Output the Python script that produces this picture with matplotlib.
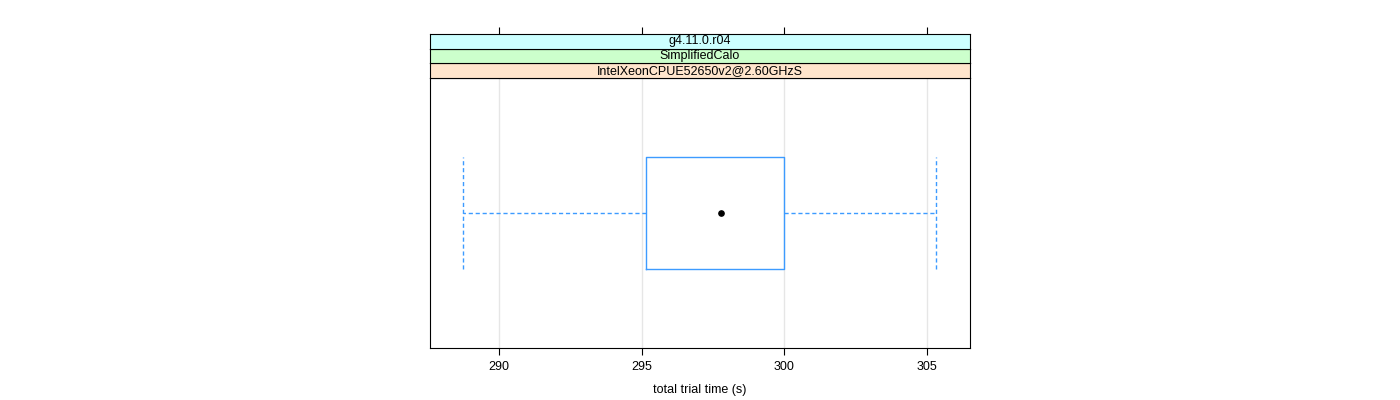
import matplotlib
matplotlib.use("Agg")
import matplotlib.pyplot as plt

plt.rcParams["font.family"] = ["Liberation Sans", "DejaVu Sans"]

# box stats (seconds)
whisker_lo = 288.74
q1 = 295.14
median = 297.77
q3 = 300.0
whisker_hi = 305.33
xlim = (287.58, 306.51)
xticks = [290, 295, 300, 305]
strips = ["IntelXeonCPUE52650v2@2.60GHzS", "SimplifiedCalo", "g4.11.0.r04"]
strip_colors = ["#ffe5cc", "#ccffcc", "#ccffff"]
box_col = "#3d9bff"

W, H = 1400, 400
fig = plt.figure(figsize=(W / 100, H / 100), dpi=100)

left, right = 430 / W, 970 / W
ax = fig.add_axes([left, (H - 348) / H, right - left, 270 / H])

stats = [{"whislo": whisker_lo, "q1": q1, "med": median, "q3": q3,
          "whishi": whisker_hi, "fliers": []}]
ax.bxp(stats, positions=[1], widths=0.5, vert=False, capwidths=0.5,
       showfliers=False,
       boxprops=dict(color=box_col, lw=1),
       whiskerprops=dict(color=box_col, lw=1, ls=(0, (3, 2))),
       capprops=dict(color=box_col, lw=1, ls=(0, (3, 2))),
       medianprops=dict(ls="none"))
ax.plot([median], [1], "o", color="black", ms=3.8, zorder=5)

ax.set_xlim(*xlim)
ax.set_ylim(0.4, 1.6)
ax.set_xticks(xticks)
ax.set_xticklabels([str(t) for t in xticks], fontsize=9)
ax.set_yticks([])
ax.tick_params(axis="x", direction="out", length=5, width=0.8, pad=4)
for t in xticks:
    ax.axvline(t, color="#e6e6e6", lw=1, zorder=0)
for s in ax.spines.values():
    s.set_linewidth(0.8)
ax.set_xlabel("total trial time (s)", fontsize=9, labelpad=8)

# lattice-style strips stacked above the panel
strip_h = 14.67 / H
base = (H - 78) / H
for i, (lab, col) in enumerate(zip(strips, strip_colors)):
    sax = fig.add_axes([left, base + i * strip_h, right - left, strip_h], sharex=ax)
    sax.set_facecolor(col)
    sax.set_yticks([])
    sax.text(0.5, 0.5, lab, transform=sax.transAxes, ha="center", va="center",
             fontsize=9)
    for s in sax.spines.values():
        s.set_linewidth(0.8)
    if i == len(strips) - 1:
        sax.tick_params(axis="x", bottom=False, labelbottom=False, top=True,
                        labeltop=False, direction="out", length=5, width=0.8)
    else:
        sax.tick_params(axis="x", bottom=False, labelbottom=False)

fig.savefig("out.png", dpi=100)
